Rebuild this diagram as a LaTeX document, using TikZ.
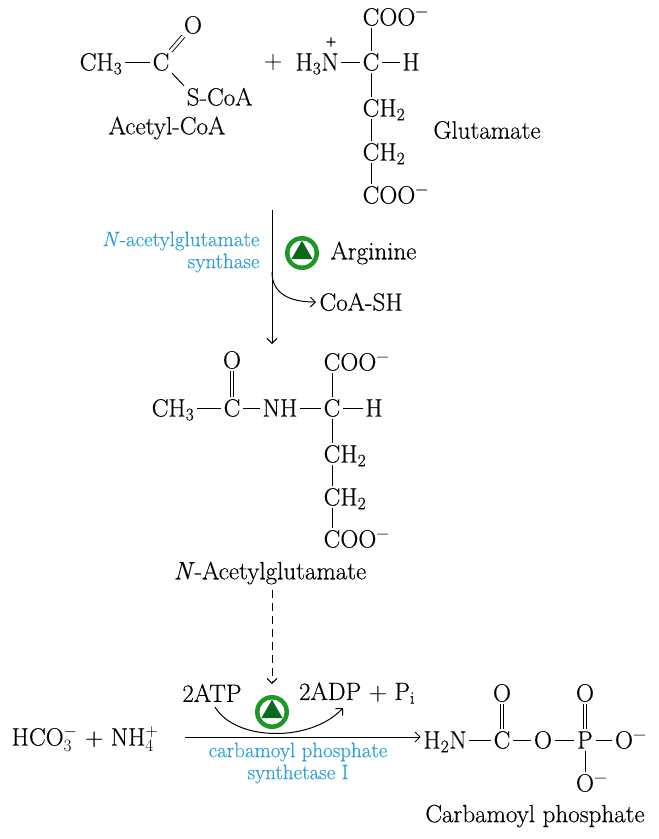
\documentclass[tikz,border=0pt]{standalone}
\usepackage{fontspec}
\setmainfont{Latin Modern Roman}[FakeBold=0.35]
\usetikzlibrary{arrows.meta}
\definecolor{enzblue}{RGB}{45,160,215}
\definecolor{icongreen}{RGB}{30,150,40}
\definecolor{icondark}{RGB}{10,105,25}
\newcommand{\sbm}{\textsuperscript{\char"2212}}
\begin{document}
\begin{tikzpicture}[x=1pt,y=-1pt,
  every node/.style={font=\fontsize{25}{29}\selectfont},
  atom/.style={inner sep=2.5pt,text height=17pt,text depth=0pt},
  bond/.style={line width=1pt},
  dbl/.style={double=white,double distance=2.8pt,line width=0.9pt},
  enz/.style={text=enzblue,font=\fontsize{21}{22}\selectfont},
  arr/.style={line width=1pt,-{Straight Barb[length=5pt,width=10pt]}},
  darr/.style={arr,dash pattern=on 8pt off 5pt},
  regicon/.style={circle,fill=icongreen,minimum size=34pt,inner sep=0pt}
]
\useasboundingbox (0,0) rectangle (659,839);
\fill[white] (0,0) rectangle (659,839);

% ---------- Acetyl-CoA ----------
\node[atom] (ch3a) at (101,62) {CH\textsubscript{3}};
\node[atom] (c1) at (161,62) {C};
\node[atom] (o1) at (193,25) {O};
\node[atom,anchor=west] (sc) at (184,97) {S-CoA};
\node (acl) at (167,128) {Acetyl-CoA};
\draw[bond] (ch3a.east) -- (c1.west);
\draw[dbl] (c1) -- (o1);
\draw[bond] (c1.south east) -- (sc.north west);

% ---------- Glutamate ----------
\node (pl1) at (273,62) {+};
\node[atom] (n1) at (330,62) {\llap{H\textsubscript{3}}N};
\node[inner sep=0pt,font=\fontsize{15}{15}\selectfont] (np) at (331,42) {+};
\node[atom] (c2) at (371,62) {C};
\node[atom] (h1) at (411,62) {H};
\node[atom] (coo1) at (371,17) {C\rlap{OO\sbm}};
\node[atom] (ch2a) at (371,108) {C\rlap{H\textsubscript{2}}};
\node[atom] (ch2b) at (371,152) {C\rlap{H\textsubscript{2}}};
\node[atom] (coo2) at (371,195) {C\rlap{OO\sbm}};
\node (glu) at (487,130) {Glutamate};
\draw[bond] (n1) -- (c2);
\draw[bond] (c2) -- (h1);
\draw[bond] (coo1) -- (c2);
\draw[bond] (c2) -- (ch2a);
\draw[bond] (ch2a) -- (ch2b);
\draw[bond] (ch2b) -- (coo2);

% ---------- first step ----------
\coordinate (v1s) at (272,210);
\coordinate (v1e) at (272,344);
\coordinate (brs) at (272,272);
\draw[arr] (v1s) -- (v1e);
\node[enz,align=right,anchor=east] (enz1) at (263,252) {\textit{N}-acetylglutamate\\synthase};
\node[regicon] (ic1) at (302,253) {};
\fill[white] (ic1.center) circle (12.5pt);
\fill[icondark] ([shift={(0,-12.3)}]ic1.center) -- ([shift={(-10.6,6.1)}]ic1.center) -- ([shift={(10.6,6.1)}]ic1.center) -- cycle;
\node[anchor=west] (arg) at (327,253) {Arginine};
\node[anchor=west] (coash) at (316,302) {CoA-SH};
\draw[arr] (brs) .. controls (272,294) and (290,302) .. (coash.west);

% ---------- N-Acetylglutamate ----------
\node[atom] (ch3b) at (173,408) {CH\textsubscript{3}};
\node[atom] (c3) at (232,408) {C};
\node[atom] (o2) at (232,360) {O};
\node[atom] (nh) at (280,408) {NH};
\node[atom] (c4) at (332,408) {C};
\node[atom] (h2) at (374,408) {H};
\node[atom] (coo3) at (332,362) {C\rlap{OO\sbm}};
\node[atom] (ch2c) at (332,454) {C\rlap{H\textsubscript{2}}};
\node[atom] (ch2d) at (332,497) {C\rlap{H\textsubscript{2}}};
\node[atom] (coo4) at (332,539) {C\rlap{OO\sbm}};
\node (nag) at (270,573) {\textit{N}-Acetylglutamate};
\draw[bond] (ch3b) -- (c3);
\draw[dbl] (c3) -- (o2);
\draw[bond] (c3) -- (nh);
\draw[bond] (nh) -- (c4);
\draw[bond] (c4) -- (h2);
\draw[bond] (coo3) -- (c4);
\draw[bond] (c4) -- (ch2c);
\draw[bond] (ch2c) -- (ch2d);
\draw[bond] (ch2d) -- (coo4);

% ---------- second step ----------
\coordinate (v2s) at (272,590);
\coordinate (v2e) at (272,684);
\draw[darr] (v2s) -- (v2e);
\node[atom] (reac) at (85,737) {HCO$^-_3$ + NH$^+_4$};
\node (atp) at (212,693) {2ATP};
\node (adp) at (357,693) {2ADP + P\textsubscript{i}};
\node[regicon] (ic2) at (272,712) {};
\fill[white] (ic2.center) circle (12.5pt);
\fill[icondark] ([shift={(0,-12.3)}]ic2.center) -- ([shift={(-10.6,6.1)}]ic2.center) -- ([shift={(10.6,6.1)}]ic2.center) -- cycle;
\coordinate (m1) at (185,737);
\coordinate (cs) at (215,707);
\coordinate (ce) at (343,708);
\draw[arr] (cs) .. controls (235,741) and (310,743) .. (ce);
\node[enz,align=center] (enz2) at (298,763) {carbamoyl phosphate\\synthetase I};

% ---------- Carbamoyl phosphate ----------
\node[atom] (h2n) at (445,740) {H\textsubscript{2}N};
\node[atom] (c5) at (502,740) {C};
\node[atom] (o3) at (502,693) {O};
\node[atom] (o4) at (543,740) {O};
\node[atom] (p1) at (585,740) {P};
\node[atom] (o5) at (585,693) {O};
\node[atom] (o6) at (624,740) {O\rlap{\sbm}};
\node[atom] (o7) at (585,783) {O\rlap{\sbm}};
\node (cpl) at (535,816) {Carbamoyl phosphate};
\draw[arr] (m1) -- (h2n.west |- m1);
\draw[bond] (h2n) -- (c5);
\draw[dbl] (c5) -- (o3);
\draw[bond] (c5) -- (o4);
\draw[bond] (o4) -- (p1);
\draw[dbl] (p1) -- (o5);
\draw[bond] (p1) -- (o6);
\draw[bond] (p1) -- (o7);
\end{tikzpicture}
\end{document}
